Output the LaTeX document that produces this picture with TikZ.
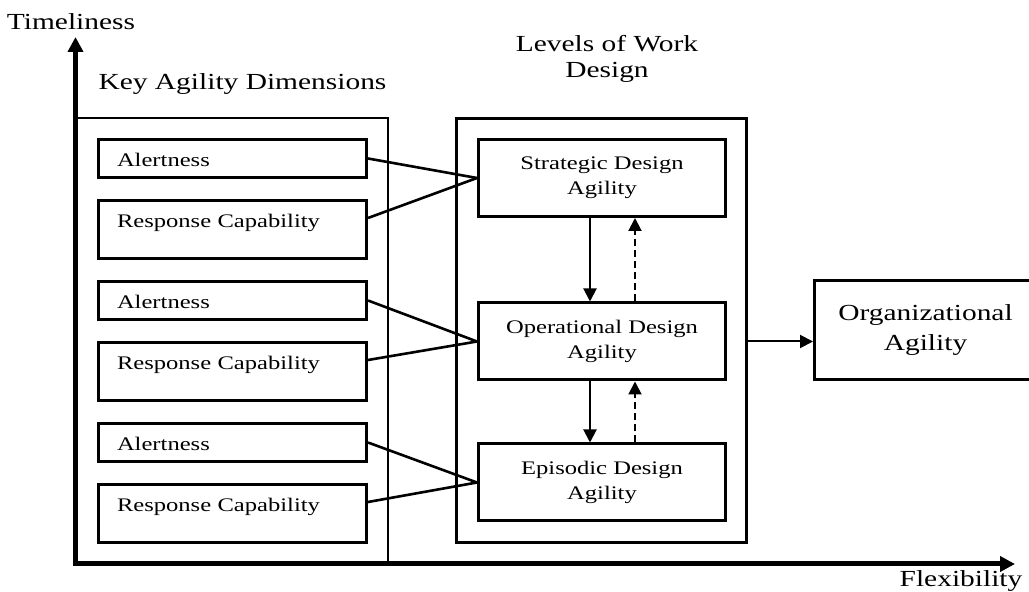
\documentclass[tikz,border=0pt]{standalone}
\usepackage{fontspec}
\setmainfont[FakeStretch=1.28]{Liberation Serif}
\usetikzlibrary{arrows.meta}

\tikzset{
  dimbox/.style={draw,line width=1.5pt,anchor=north,text width=115.5pt,align=left,
    inner xsep=9.25pt,inner ysep=0pt,text height=13.75pt,text depth=5.25pt,
    font=\fontsize{9.6}{12.5}\selectfont},
  respbox/.style={dimbox,text depth=15.25pt},
  levelbox/.style={draw,line width=1.5pt,minimum width=123.5pt,minimum height=38.5pt,
    align=center,font=\fontsize{9.6}{12.5}\selectfont},
  big/.style={font=\fontsize{11.5}{13}\selectfont},
  link/.style={line width=1.3pt},
  flow/.style={line width=1pt,-{Triangle[length=6.5pt,width=6.5pt]}},
}

\begin{document}
\begin{tikzpicture}[x=0.5pt,y=-0.5pt]
\clip (0,0) rectangle (1029,592);
\coordinate (o) at (75.5,564);
\coordinate (ytip) at (75.5,37);
\coordinate (xtip) at (1015,564);
\draw[line width=2.5pt,line join=miter,{Triangle[length=7.5pt,width=7.5pt]}-{Triangle[length=7.5pt,width=7.5pt]}] (ytip) -- (o) -- (xtip);
\node[big,anchor=base] (ytitle) at (71,30) {Timeliness};
\node[big,anchor=base] (xtitle) at (961,587) {Flexibility};
\node[big,anchor=base] (dimtitle) at (242.5,90) {Key Agility Dimensions};
\node[big,anchor=base,align=center] (leveltitle) at (607,78) {Levels of Work\\Design};
\draw[line width=1.3pt] (75,118) -| (388,565);
\node[draw,line width=1.5pt,minimum width=145pt,minimum height=212pt] (levels) at (601.5,330.5) {};
\node[levelbox] (strat) at (602,178) {Strategic Design\\Agility};
\node[levelbox] (oper) at (602,341.5) {Operational Design\\Agility};
\node[levelbox] (epis) at (602,482.5) {Episodic Design\\Agility};
\node[draw,line width=1.5pt,minimum width=111pt,minimum height=49.5pt,big,align=center] (org) at (925.5,330) {Organizational\\[2pt]Agility};
\foreach \i/\t in {0/strat,1/oper,2/epis} {
  \node[dimbox] (alert\t) at (232.5,{138+142*\i}) {Alertness};
  \node[respbox] (resp\t) at (232.5,{199+142*\i}) {Response Capability};
  \draw[link] (alert\t.east) -- (\t.west);
  \draw[link] ([yshift=5.75pt]resp\t.east) -- (\t.west);
}
\draw[flow] ([xshift=-6pt]strat.south) -- ([xshift=-6pt]oper.north);
\draw[flow,dash pattern=on 3.5pt off 2pt] ([xshift=16.5pt]oper.north) -- ([xshift=16.5pt]strat.south);
\draw[flow] ([xshift=-6pt]oper.south) -- ([xshift=-6pt]epis.north);
\draw[flow,dash pattern=on 3.5pt off 2pt] ([xshift=16.5pt]epis.north) -- ([xshift=16.5pt]oper.south);
\draw[flow] (oper -| levels.east) -- (oper -| org.west);
\end{tikzpicture}
\end{document}
